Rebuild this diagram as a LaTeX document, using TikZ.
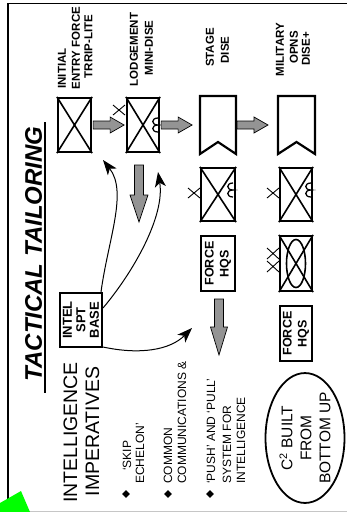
\documentclass[tikz,border=0pt]{standalone}
\usepackage{fontspec}
\setmainfont{Liberation Sans}
\usetikzlibrary{arrows.meta,shapes.geometric,calc}
\definecolor{arrgray}{gray}{0.58}
\begin{document}
\begin{tikzpicture}[x=1pt,y=-1pt,
  box/.style={draw, line width=2.2pt, fill=white, inner sep=0pt},
  crossln/.style={line width=1.6pt},
  ech/.style={line width=0.9pt},
  abn/.style={line width=1.3pt},
  garrow/.style={fill=arrgray, draw=black, line width=0.7pt, line join=miter},
  curv/.style={line width=1pt, -{Stealth[length=15pt,width=11pt,inset=4pt]}},
  lbl/.style={rotate=90, font=\fontsize{11.5}{13}\selectfont\bfseries, inner sep=0pt},
  btxt/.style={rotate=90, font=\fontsize{12}{14}\selectfont, inner sep=0pt, anchor=west},
]
\useasboundingbox (0,0) rectangle (347,512);

% frame
\draw[line width=1.3pt] (8,506) -- (8,3.5) -- (347,3.5);
\draw[gray!45, line width=1pt] (0,511) -- (347,511);
\fill[green] (0,503) -- (21,491) -- (30,512) -- (0,512) -- cycle;

% title
\node[rotate=90, font=\fontsize{24}{24}\selectfont\bfseries\itshape, inner sep=0pt] (title) at (33.5,254) {TACTICAL TAILORING};
\draw[line width=2pt] (45,122) -- (45,393);

% column labels
\node[lbl] (l1a) at (62,68.5) {INITIAL};
\node[lbl] (l1b) at (76,48) {ENTRY FORCE};
\node[lbl] (l1c) at (88.5,46.5) {TRRIP-LITE};
\node[lbl] (l2a) at (134,49.5) {LODGEMENT};
\node[lbl] (l2b) at (149,48) {MINI-DISE};
\node[lbl] (l3a) at (210,47.5) {STAGE};
\node[lbl] (l3b) at (225,50) {DISE};
\node[lbl] (l4a) at (280,49.5) {MILITARY};
\node[lbl] (l4b) at (294,47.5) {OPNS};
\node[lbl] (l4c) at (306,49) {DISE+};

% row 1
\node[box, minimum width=33pt, minimum height=54pt] (b1) at (74.5,125) {};
\draw[crossln] (b1.north west) -- (b1.south east) (b1.north east) -- (b1.south west);
\node[box, minimum width=32pt, minimum height=54pt] (b2) at (143,125) {};
\draw[crossln] (b2.north west) -- (b2.south east) (b2.north east) -- (b2.south west);
\draw[abn] (158,118) .. controls (151,118) and (151,125) .. (158,125) .. controls (151,125) and (151,132) .. (158,132);
\draw[ech] (113,105) -- (125,115) (113,115) -- (125,105);

\coordinate (b3w) at (199,125);
\coordinate (b3e) at (237,125);
\draw[line width=2.2pt, line join=miter] (200,96) -- (236,96) -- (236,154) -- (218,142) -- (200,154) -- cycle;
\coordinate (b4w) at (277,125);
\draw[line width=2.2pt, line join=miter] (278,96) -- (315,96) -- (315,154) -- (296.5,142) -- (278,154) -- cycle;

\draw[garrow] ($(b1.east)+(1,-4)$) -- ++(17,0) -- ++(0,-4) -- ++(14,8) -- ++(-14,8) -- ++(0,-4) -- ++(-17,0) -- cycle;
\draw[garrow] ($(b2.east)+(1,-4)$) -- ++(17,0) -- ++(0,-4) -- ++(14,8) -- ++(-14,8) -- ++(0,-4) -- ++(-17,0) -- cycle;
\draw[garrow] ($(b3e)+(0,-4)$) -- ++(17,0) -- ++(0,-4) -- ++(14,8) -- ++(-14,8) -- ++(0,-4) -- ++(-17,0) -- cycle;

% row 2
\node[box, minimum width=34pt, minimum height=53pt] (r2a) at (218,194.5) {};
\draw[crossln] (r2a.north west) -- (r2a.south east) (r2a.north east) -- (r2a.south west);
\draw[abn] (233,183) .. controls (226,183) and (226,190) .. (233,190) .. controls (226,190) and (226,197) .. (233,197);
\draw[ech] (188,188) -- (200,198) (188,198) -- (200,188);
\node[box, minimum width=32pt, minimum height=53pt] (r2b) at (296,194.5) {};
\draw[crossln] (r2b.north west) -- (r2b.south east) (r2b.north east) -- (r2b.south west);
\draw[abn] (311,183) .. controls (304,183) and (304,190) .. (311,190) .. controls (304,190) and (304,197) .. (311,197);
\draw[ech] (267,188) -- (279,198) (267,198) -- (279,188);

\draw[garrow] (134.5,165) -- (143.5,165) -- (143.5,195) -- (148,195) -- (139,222) -- (130,195) -- (134.5,195) -- cycle;

% row 3
\node[box, rotate=90, minimum width=55pt, minimum height=34pt, align=center, font=\fontsize{12.5}{15}\selectfont\bfseries] (hq1) at (218,263.5) {FORCE\\HQS};
\node[box, minimum width=32pt, minimum height=55pt] (div) at (296,263.5) {};
\draw[crossln] (div.north west) -- (div.south east) (div.north east) -- (div.south west);
\draw[crossln] (div.center) ellipse [x radius=9.5pt, y radius=24pt];
\draw[ech] (267,248) -- (279,259) (267,259) -- (279,248);
\draw[ech] (267,261) -- (279,272) (267,272) -- (279,261);

\draw[garrow] (214.5,299) -- (223.5,299) -- (223.5,327) -- (227.5,327) -- (219,355) -- (210.5,327) -- (214.5,327) -- cycle;

\node[box, rotate=90, minimum width=55pt, minimum height=32pt, align=center, font=\fontsize{12.5}{15}\selectfont\bfseries] (hq2) at (296,333.5) {FORCE\\HQS};

% intel base
\node[box, rotate=90, minimum width=54pt, minimum height=42pt, align=center, font=\fontsize{13}{13.5}\selectfont\bfseries] (intel) at (81,320) {INTEL\\SPT\\BASE};

\coordinate (tip1) at (103,160);
\coordinate (tip2) at (158,172);
\coordinate (tip3) at (192,328);
\draw[curv] ($(intel.center)+(20,-28)$) .. controls (108,240) and (128,192) .. (tip1);
\draw[curv] ($(intel.center)+(22,-12)$) .. controls (135,270) and (165,215) .. (tip2);
\draw[curv] ($(intel.center)+(22,27)$) .. controls (140,355) and (170,350) .. (tip3);

% imperatives
\node[rotate=90, font=\fontsize{19.5}{22}\selectfont, inner sep=0pt] (imp1) at (70.5,432.5) {INTELLIGENCE};
\node[rotate=90, font=\fontsize{19.5}{22}\selectfont, inner sep=0pt] (imp2) at (92.5,431.5) {IMPERATIVES};

\node[diamond, fill, inner sep=0pt, minimum size=8pt] (d1) at (126,494) {};
\node[diamond, fill, inner sep=0pt, minimum size=8pt] (d2) at (168,494) {};
\node[diamond, fill, inner sep=0pt, minimum size=8pt] (d3) at (210,494) {};

\node[btxt] (t1a) at (127,471) {‘SKIP};
\node[btxt] (t1b) at (140,484) {ECHELON’};
\node[btxt] (t2a) at (168,484) {COMMON};
\node[btxt] (t2b) at (182,484) {COMMUNICATIONS \&};
\node[btxt] (t3a) at (211,484) {‘PUSH’ AND ‘PULL’};
\node[btxt] (t3b) at (227,484) {SYSTEM FOR};
\node[btxt] (t3c) at (241,484) {INTELLIGENCE};

% C2 ellipse
\node[ellipse, draw, line width=1.8pt, rotate=90, minimum width=125pt, minimum height=79pt, inner sep=0pt, align=center, font=\fontsize{15.5}{19}\selectfont] (c2) at (305,438) {C\textsuperscript{2} BUILT\\FROM\\BOTTOM UP};
\end{tikzpicture}
\end{document}
